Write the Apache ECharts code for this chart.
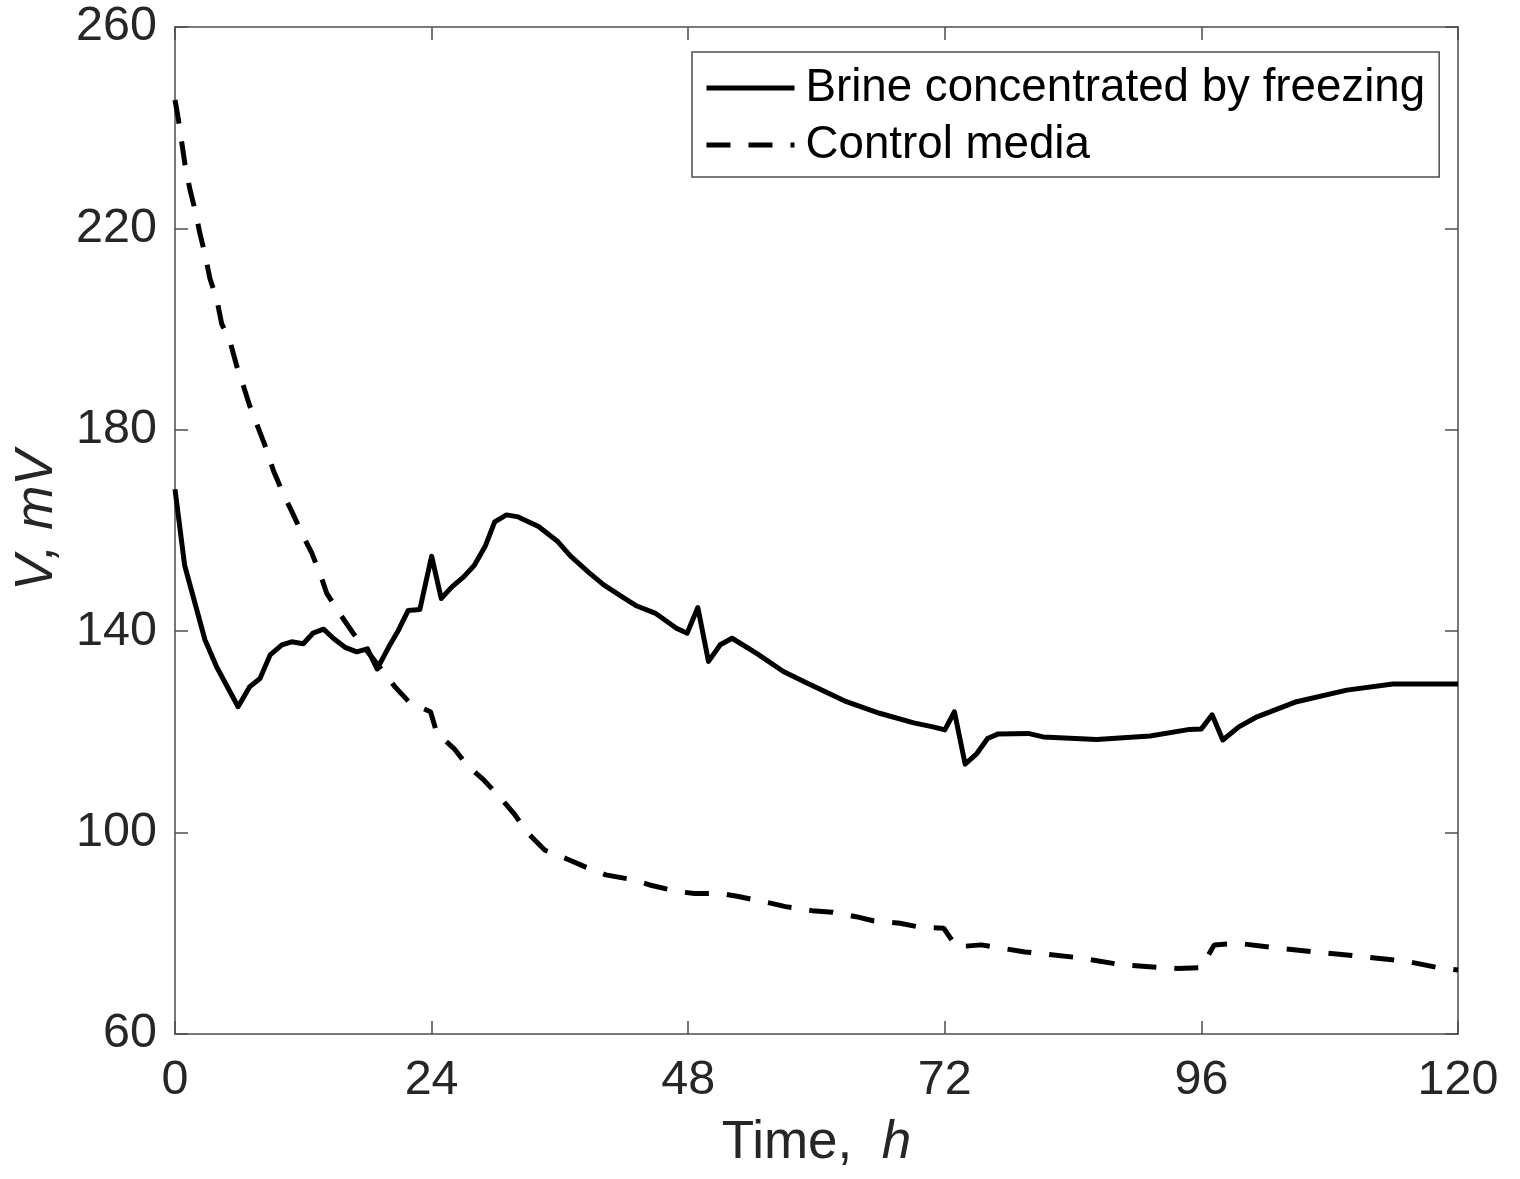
<!DOCTYPE html>
<html>
<head>
<meta charset="utf-8">
<title>V vs time</title>
<script src="https://cdn.jsdelivr.net/npm/echarts@6/dist/echarts.min.js"></script>
<style>
  html, body { margin: 0; padding: 0; background: #fff; }
  #chart { width: 1520px; height: 1179px; }
</style>
</head>
<body>
<div id="chart"></div>
<script>
// Brine concentrated by freezing (solid)
const brineTime = [0, 0.9, 2.8, 3.9, 5.9, 7.0, 7.95, 8.9, 10.0, 10.9, 12.0, 12.9, 13.9, 14.8, 15.9, 17.0, 18.0, 18.9,
  20.0, 20.9, 21.8, 22.9, 24.0, 24.9, 25.9, 27.0, 28.0, 29.0, 29.9, 31.0, 32.1, 34.0, 35.8, 37.0, 38.8, 40.1,
  41.9, 43.2, 44.9, 46.9, 47.9, 48.9, 49.9, 51.0, 52.1, 54.4, 56.9, 59.1, 62.8, 65.9, 69.1, 70.9, 72.0, 72.9,
  73.9, 75.0, 76.0, 77.0, 79.8, 81.2, 86.2, 91.2, 94.9, 96.0, 97.0, 98.0, 99.5, 101.2, 104.9, 109.6, 113.9, 120];
const brineVolt = [168.2, 153.1, 138.3, 132.9, 125.0, 129.0, 130.6, 135.3, 137.3, 137.9, 137.5, 139.6, 140.4, 138.6, 136.8, 135.9, 136.5, 132.5,
  136.9, 140.2, 144.1, 144.3, 154.9, 146.5, 148.8, 150.8, 153.1, 156.8, 161.7, 163.1, 162.7, 160.8, 157.8, 154.9, 151.5, 149.2,
  146.7, 145.0, 143.6, 140.6, 139.6, 144.7, 134.0, 137.3, 138.6, 135.6, 132.0, 129.7, 126.0, 123.7, 121.8, 121.0, 120.4, 124.0,
  113.6, 115.7, 118.7, 119.6, 119.7, 119.0, 118.5, 119.2, 120.5, 120.6, 123.4, 118.4, 121.0, 123.0, 126.0, 128.3, 129.5, 129.5];

// Control media (dashed)
const controlTime = [0, 0.3, 0.94, 1.4, 1.87, 2.34, 2.8, 3.27, 3.9, 4.36, 5.14, 5.77, 6.4, 7.0, 7.8, 8.6, 9.2, 10.1, 10.9,
  11.85, 12.8, 13.7, 14.2, 15.4, 16.7, 20.6, 22.0, 23.9, 24.5, 26.1, 27.3, 28.9, 30.4, 31.8, 33.0, 34.6, 36.5, 38.7,
  40.3, 42.9, 44.4, 47.0, 48.6, 51.1, 52.7, 55.5, 57.1, 59.6, 61.5, 63.7, 65.3, 67.8, 69.7, 71.9, 73.1, 75.4, 79.5,
  84.3, 88.7, 93.8, 96.0, 97.2, 99.5, 103.3, 109.6, 115.3, 118.1, 120];
const controlVolt = [245.5, 241.9, 232.6, 227.7, 223.7, 218.9, 214.9, 210.0, 206.0, 201.1, 197.6, 192.7, 188.7, 184.7, 180.3, 175.9, 171.9, 167.4, 163.9,
  159.5, 155.5, 150.6, 147.5, 143.5, 139.5, 128.9, 125.7, 124.0, 119.7, 116.7, 113.4, 110.4, 107.0, 103.5, 99.9, 96.5, 94.9, 92.9,
  91.6, 90.6, 89.6, 88.3, 87.9, 87.9, 87.3, 86.1, 85.3, 84.5, 84.2, 83.3, 82.5, 82.0, 81.2, 81.0, 77.3, 77.7, 76.3,
  75.2, 73.7, 73.0, 73.2, 77.7, 78.0, 77.0, 75.7, 74.4, 73.2, 72.7];

const xTicks = [0, 120, 24];   // min, max, step
const yTicks = [60, 260, 40];

const font = 'Liberation Sans, Arial, Helvetica, sans-serif';
const axisColor = '#4d4d4d';
const textColor = '#262626';

const chart = echarts.init(document.getElementById('chart'));

// box axis: line + inward ticks, no labels, never snapped to zero
function boxAxis(range, pos) {
  return {
    type: 'value', min: range[0], max: range[1], interval: range[2], position: pos,
    axisLine: { show: true, onZero: false, lineStyle: { color: axisColor, width: 1.5 } },
    axisTick: { show: true, inside: true, length: 13, lineStyle: { color: axisColor, width: 1.5 } },
    axisLabel: { show: false },
    splitLine: { show: false }
  };
}

// labelled axes (ticks come from the box axes)
const xMain = {
  type: 'value', min: xTicks[0], max: xTicks[1], interval: xTicks[2], position: 'bottom',
  axisLine: { show: false, onZero: false }, axisTick: { show: false }, splitLine: { show: false },
  axisLabel: { fontFamily: font, fontSize: 48.5, color: textColor, margin: 22 },
  name: 'Time,  {i|h}',
  nameLocation: 'middle',
  nameGap: 83,
  nameTextStyle: {
    fontFamily: font, fontSize: 53, color: textColor,
    rich: { i: { fontFamily: font, fontSize: 53, fontStyle: 'italic', color: textColor } }
  }
};

const yMain = {
  type: 'value', min: yTicks[0], max: yTicks[1], interval: yTicks[2], position: 'left',
  axisLine: { show: false, onZero: false }, axisTick: { show: false }, splitLine: { show: false },
  axisLabel: { fontFamily: font, fontSize: 48.5, color: textColor, margin: 18 },
  name: 'V, mV',
  nameLocation: 'middle',
  nameGap: 111,
  nameTextStyle: { fontFamily: font, fontSize: 53, fontStyle: 'italic', color: textColor, padding: [0, 0, 0, 20] }
};

const option = {
  backgroundColor: '#fff',
  animation: false,
  grid: { left: 175, right: 62, top: 27, bottom: 145, containLabel: false },
  legend: {
    orient: 'vertical',
    left: 692,
    top: 52,
    padding: [13, 14, 9, 12],
    itemWidth: 88,
    itemHeight: 14,
    itemGap: 11,
    borderColor: axisColor,
    borderWidth: 1.5,
    backgroundColor: '#fff',
    itemStyle: { opacity: 0 },
    lineStyle: { width: 5 },
    textStyle: { fontFamily: font, fontSize: 45.7, color: '#000', lineHeight: 45, padding: [0, 0, 0, 6] },
    data: ['Brine concentrated by freezing', 'Control media']
  },
  // box axes first, labelled axes last
  xAxis: [boxAxis(xTicks, 'bottom'), boxAxis(xTicks, 'top'), xMain],
  yAxis: [boxAxis(yTicks, 'left'), boxAxis(yTicks, 'right'), yMain],
  series: [
    {
      name: 'Brine concentrated by freezing',
      type: 'line',
      xAxisIndex: 0, yAxisIndex: 0,
      symbol: 'none',
      data: brineTime.map((t, i) => [t, brineVolt[i]]),
      lineStyle: { color: '#000', width: 5, join: 'round' },
      itemStyle: { color: '#000' }
    },
    {
      name: 'Control media',
      type: 'line',
      xAxisIndex: 0, yAxisIndex: 0,
      symbol: 'none',
      data: controlTime.map((t, i) => [t, controlVolt[i]]),
      lineStyle: { color: '#000', width: 5, type: [24, 18], cap: 'butt' },
      itemStyle: { color: '#000' }
    }
  ]
};

chart.setOption(option);
</script>
</body>
</html>
